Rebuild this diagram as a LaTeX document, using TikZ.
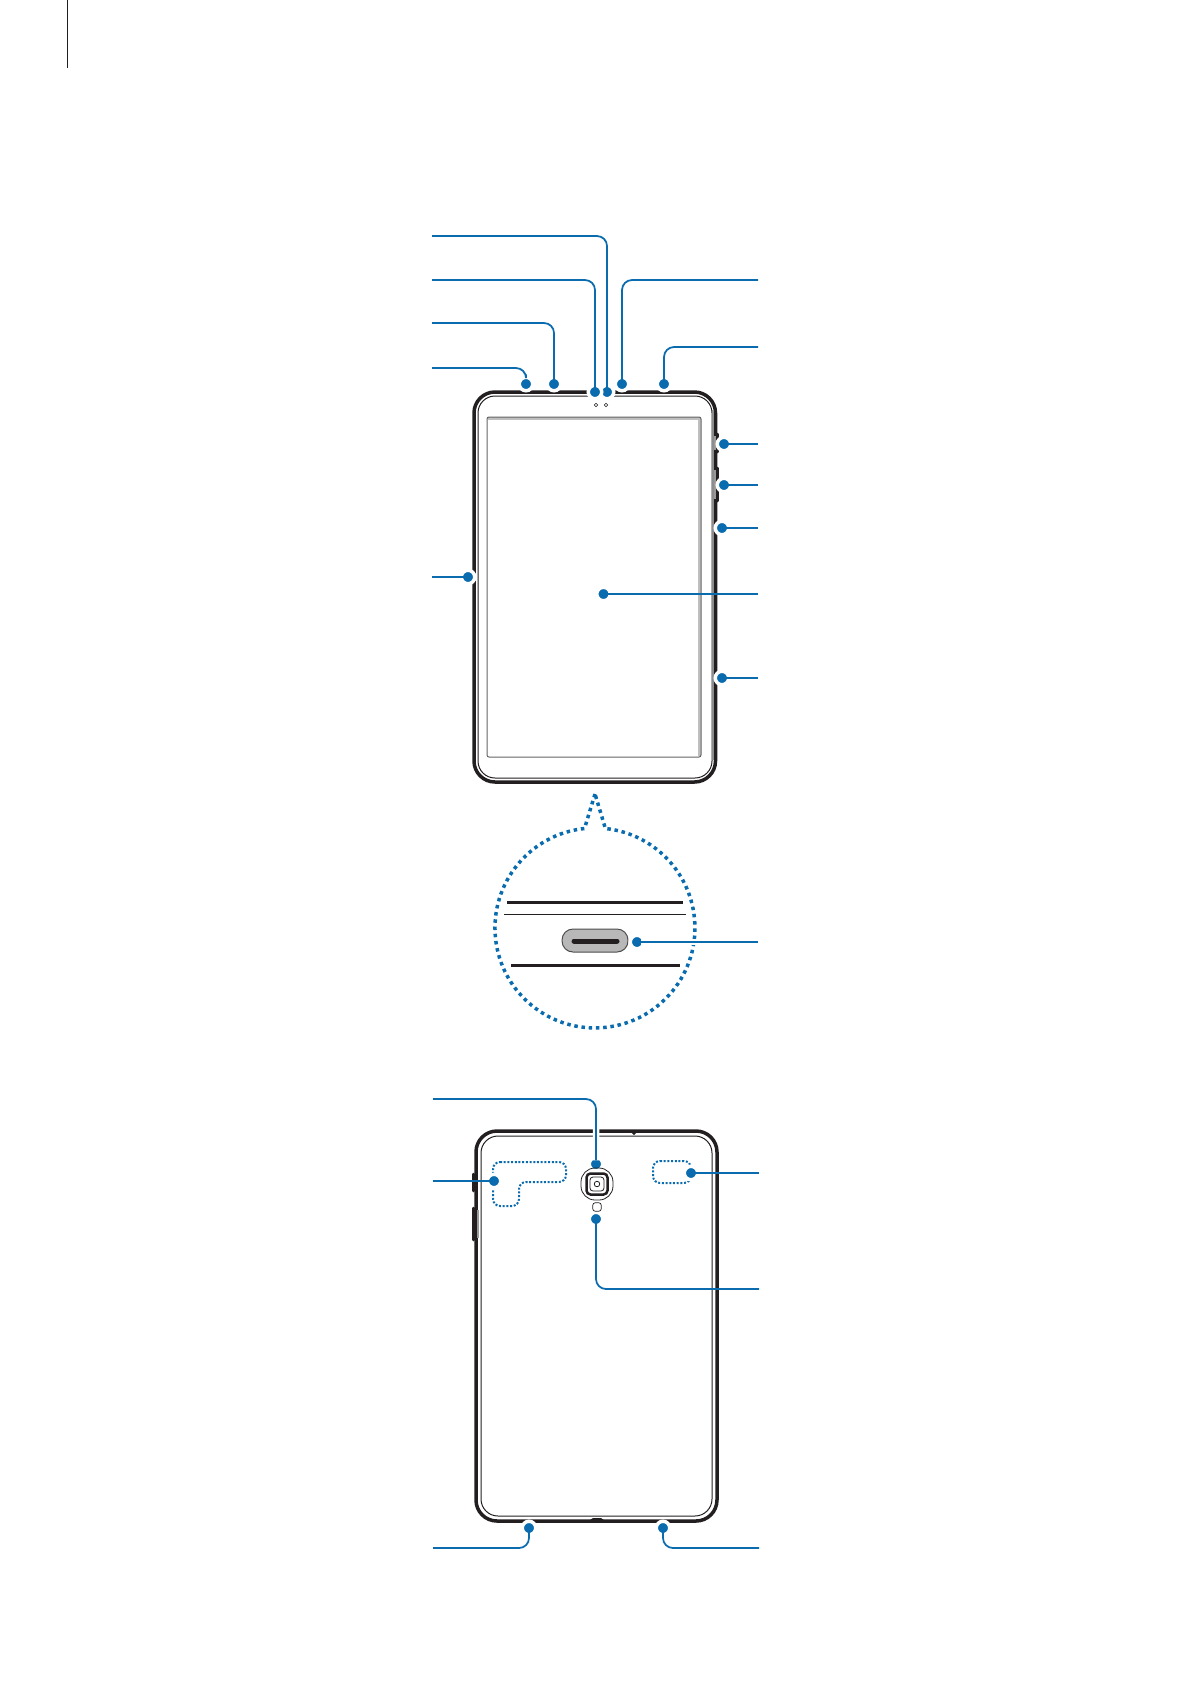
\documentclass[tikz,border=0pt]{standalone}
\definecolor{leaderblue}{RGB}{10,108,174}
\definecolor{bodyblack}{RGB}{35,31,32}
\tikzset{
  ptdot/.style={shape=circle,fill=leaderblue,draw=white,line width=0.07cm,inner sep=0pt,minimum size=0.27cm,outer sep=0pt},
  leader/.style={draw=leaderblue,line width=0.035cm,rounded corners=0.2cm,shorten >=-0.06cm},
  leaderhalo/.style={leader,preaction={draw=white,line width=0.13cm}},
  bodyline/.style={draw=bodyblack,line width=0.07cm,rounded corners=0.42cm},
  thinline/.style={draw=bodyblack,line width=0.02cm,rounded corners=0.34cm},
  keyline/.style={draw=bodyblack,line width=0.05cm,line cap=round},
  dotarea/.style={draw=leaderblue,line width=0.04cm,dash pattern=on 0.04cm off 0.034cm,rounded corners=0.14cm},
}
\begin{document}
\begin{tikzpicture}[x=0.02cm,y=-0.02cm]
\useasboundingbox (0,0) rectangle (1192,1685);
\draw[draw=bodyblack,line width=0.026cm] (67.5,0) -- (67.5,68);
\draw[bodyline] (474,392) rectangle (715.5,782);
\draw[thinline] (478,396) rectangle (712,778);
\draw[draw=black!45,line width=0.03cm] (713,410) -- (713,760);
\draw[draw=black!25,line width=0.05cm] (488,418.5) -- (700,418.5);
\draw[draw=black!25,line width=0.05cm] (699.5,418) -- (699.5,756);
\draw[draw=bodyblack!70,line width=0.02cm,rounded corners=0.04cm] (487,417) rectangle (701,757);
\draw[keyline] (717.5,434) -- (717.5,452);
\draw[keyline] (717.5,468) -- (717.5,501);
\draw[draw=black!40,line width=0.04cm] (714.5,436) -- (714.5,450);
\draw[draw=black!40,line width=0.04cm] (714.5,470) -- (714.5,499);
\node[shape=circle,draw=bodyblack,line width=0.012cm,minimum size=0.07cm,inner sep=0pt] (M) at (596,405) {};
\node[shape=circle,draw=bodyblack,line width=0.012cm,minimum size=0.07cm,inner sep=0pt] (N) at (606,405) {};
\draw[draw=leaderblue,line width=0.07cm,dash pattern=on 0.07cm off 0.075cm]
  (595,794) -- (584.5,828.5) arc[start angle=96,end angle=444,radius=2cm] -- cycle;
\draw[draw=bodyblack,line width=0.06cm] (507,902) -- (683,902);
\draw[draw=bodyblack,line width=0.02cm] (504,914) -- (686,914);
\draw[draw=bodyblack,line width=0.06cm] (511,965) -- (680,965);
\node[shape=rectangle,rounded corners=0.22cm,fill=black!28,draw=bodyblack!80,line width=0.02cm,minimum width=1.32cm,minimum height=0.46cm,inner sep=0pt] (P) at (595,940.5) {};
\draw[draw=bodyblack,line width=0.1cm,line cap=round] (574,941) -- (617,941);
\node[ptdot] (A) at (607,392) {};
\node[ptdot] (B) at (595,392) {};
\node[ptdot] (C) at (554,384) {};
\node[ptdot] (D) at (526,384) {};
\node[ptdot] (E) at (468,577) {};
\node[ptdot] (F) at (622,384) {};
\node[ptdot] (G) at (664,384) {};
\node[ptdot] (H) at (724,444) {};
\node[ptdot] (I) at (724,485) {};
\node[ptdot] (J) at (722,528) {};
\node[ptdot] (K) at (603.5,594) {};
\node[ptdot] (L) at (722,678) {};
\node[ptdot] (Q) at (637,942) {};
\coordinate (a) at (432,236);
\coordinate (b) at (432,280);
\coordinate (c) at (432,323);
\coordinate (d) at (432,368);
\coordinate (e) at (432,577);
\coordinate (f) at (758,280);
\coordinate (g) at (758,347);
\coordinate (h) at (758,444);
\coordinate (i) at (758,485);
\coordinate (j) at (758,528);
\coordinate (k) at (758,594);
\coordinate (l) at (758,678);
\coordinate (q) at (758,942);
\draw[leader] (a) -| (A);
\draw[leader] (b) -| (B);
\draw[leader] (c) -| (C);
\draw[leader] (d) -| (D);
\draw[leader] (e) -- (E);
\draw[leader] (f) -| (F);
\draw[leader] (g) -| (G);
\draw[leader] (h) -- (H);
\draw[leader] (i) -- (I);
\draw[leader] (j) -- (J);
\draw[leader] (k) -- (K);
\draw[leader] (l) -- (L);
\draw[leaderhalo] (q) -- (Q);
\draw[bodyline] (476,1131) rectangle (717,1521);
\draw[thinline] (481,1136) rectangle (712,1516);
\draw[keyline] (473.5,1174) -- (473.5,1191);
\draw[keyline] (473.5,1208) -- (473.5,1240);
\draw[draw=black!40,line width=0.04cm] (477.5,1210) -- (477.5,1238);
\fill[bodyblack] (630,1131) -- (638,1131) -- (634,1135) -- cycle;
\fill[bodyblack] (590,1520) -- (593,1518) -- (601,1518) -- (604,1520) -- cycle;
\draw[dotarea] (493,1162) -- (566,1162) -- (566,1182) -- (519,1182) -- (519,1206) -- (493,1206) -- cycle;
\draw[dotarea] (653,1161) -- (691,1161) -- (691,1183) -- (653,1183) -- cycle;
\node[ptdot] (W) at (596,1164) {};
\node[ptdot] (X) at (494,1181) {};
\node[ptdot] (Y) at (691,1173) {};
\node[ptdot] (Z) at (596,1219) {};
\node[ptdot] (AA) at (529,1528) {};
\node[ptdot] (BB) at (663,1528) {};
\node[shape=rectangle,rounded corners=0.28cm,draw=bodyblack,line width=0.016cm,minimum size=0.64cm,inner sep=0pt] (R) at (597,1184) {};
\node[shape=rectangle,rounded corners=0.08cm,draw=bodyblack,line width=0.05cm,minimum size=0.42cm,inner sep=0pt] (S) at (597,1184) {};
\node[shape=rectangle,rounded corners=0.06cm,draw=bodyblack,line width=0.016cm,minimum size=0.28cm,inner sep=0pt] (T) at (597,1184) {};
\node[shape=circle,draw=bodyblack,line width=0.016cm,minimum size=0.11cm,inner sep=0pt] (U) at (597,1184) {};
\node[shape=rectangle,rounded corners=0.05cm,draw=bodyblack,line width=0.014cm,minimum size=0.17cm,inner sep=0pt] (V) at (597,1207) {};
\coordinate (w) at (433,1099);
\coordinate (x) at (433,1181);
\coordinate (y) at (759,1173);
\coordinate (z) at (759,1289);
\coordinate (aa) at (433,1548);
\coordinate (bb) at (759,1548);
\draw[leaderhalo] (w) -| (W);
\draw[leader] (x) -- (X);
\draw[leader] (y) -- (Y);
\draw[leader] (z) -| (Z);
\draw[leader] (aa) -| (AA);
\draw[leader] (bb) -| (BB);
\end{tikzpicture}
\end{document}
